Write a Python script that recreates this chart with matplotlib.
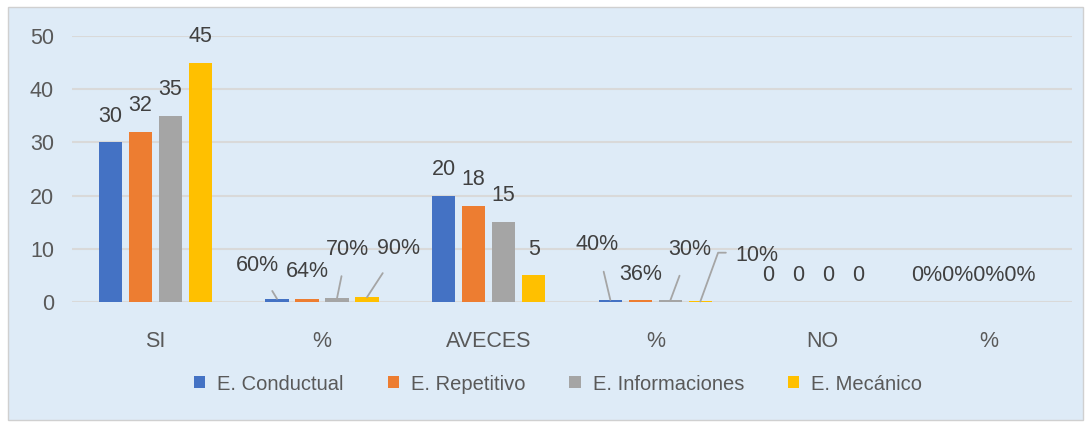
import numpy as np
import matplotlib.pyplot as plt
from matplotlib.patches import Rectangle

plt.rcParams['font.family'] = ['Liberation Sans', 'DejaVu Sans']

# Data
categories = ["SI", "%", "AVECES", "%", "NO", "%"]
series_names = ["E. Conductual", "E. Repetitivo", "E. Informaciones", "E. Mecánico"]
conductual = [30, 0.60, 20, 0.40, 0, 0.0]
repetitivo = [32, 0.64, 18, 0.36, 0, 0.0]
informaciones = [35, 0.70, 15, 0.30, 0, 0.0]
mecanico = [45, 0.90, 5, 0.10, 0, 0.0]
is_percent = [False, True, False, True, False, True]

series = [conductual, repetitivo, informaciones, mecanico]
colors = ["#4472C4", "#ED7D31", "#A5A5A5", "#FFC000"]
bg = "#DEEBF7"
label_color = "#404040"
tick_color = "#595959"

fig = plt.figure(figsize=(10.91, 4.23), dpi=100)
fig.patch.set_facecolor("white")
fig.patches.append(Rectangle((8 / 1091, 3 / 423), 1075 / 1091, 413 / 423,
                             transform=fig.transFigure, facecolor=bg,
                             edgecolor="#D0D0D0", linewidth=1, zorder=-5))

ax = fig.add_axes([72 / 1091, 121 / 423, 1000 / 1091, 266 / 423])
ax.set_facecolor("none")

x = np.arange(len(categories))
step = 0.18
width = 0.14
offsets = (np.arange(4) - 1.5) * step

for i, (vals, name, c) in enumerate(zip(series, series_names, colors)):
    ax.bar(x + offsets[i], vals, width, color=c, label=name, zorder=3)

# label offsets (pixels) for the small percent bars: (dx, dy, leader line)
pct_offsets = {
    (1, 0): (-20, 33, True), (1, 1): (0, 27, False),
    (1, 2): (10, 49, True), (1, 3): (32, 49, True),
    (3, 0): (-13, 55, True), (3, 1): (0, 26, False),
    (3, 2): (19, 51, True), (3, 3): (54, 46, "elbow"),
}
fs = 15.5

for i, vals in enumerate(series):
    for j, v in enumerate(vals):
        xc = x[j] + offsets[i]
        txt = f"{v * 100:.0f}%" if is_percent[j] else f"{v:.0f}"
        if (j, i) in pct_offsets:
            dx, dy, lead = pct_offsets[(j, i)]
            if lead == "elbow":
                ax.annotate(txt, xy=(xc, v), xytext=(dx * 0.72 - 14, dy * 0.72),
                            textcoords="offset points", ha="left", va="center",
                            fontsize=fs, color=label_color, zorder=5)
                ax.annotate("", xy=(xc, v), xytext=(dx * 0.72 - 20.5, dy * 0.72 + 2),
                            textcoords="offset points",
                            arrowprops=dict(arrowstyle="-", color="#A5A5A5", lw=1.3,
                                            shrinkA=0, shrinkB=0,
                                            connectionstyle="angle,angleA=180,angleB=70,rad=0"))
            elif lead:
                ax.annotate(txt, xy=(xc, v), xytext=(dx * 0.72, dy * 0.72),
                            textcoords="offset points", ha="center", va="center",
                            fontsize=fs, color=label_color, zorder=5,
                            arrowprops=dict(arrowstyle="-", color="#A5A5A5", lw=1.3,
                                            shrinkA=10, shrinkB=0))
            else:
                ax.annotate(txt, xy=(xc, v), xytext=(dx * 0.72, dy * 0.72),
                            textcoords="offset points", ha="center", va="center",
                            fontsize=fs, color=label_color, zorder=5)
        elif not is_percent[j]:
            shift = -6 if v == 0 else 0
            ax.annotate(txt, xy=(xc, v), xytext=(shift, 19),
                        textcoords="offset points", ha="center", va="center",
                        fontsize=fs, color=label_color, zorder=5)

# last % group labels are packed together
ax.annotate("0%0%0%0%", xy=(x[5], 0), xytext=(-11, 19), textcoords="offset points",
            ha="center", va="center", fontsize=fs, color=label_color)

ax.set_xlim(-0.5, len(categories) - 0.5)
ax.set_ylim(0, 50)
ax.set_yticks(range(0, 51, 10))
ax.yaxis.grid(True, color="#D9D9D9", linewidth=1.5, zorder=0)
ax.set_axisbelow(True)
for s in ax.spines.values():
    s.set_visible(False)
ax.set_xticks(x)
ax.set_xticklabels(categories)
ax.tick_params(axis="both", length=0, labelsize=fs, labelcolor=tick_color)
ax.tick_params(axis="x", pad=21)
ax.tick_params(axis="y", pad=13)

fig.legend(loc="center", bbox_to_anchor=(558 / 1091, 1 - 384 / 423), ncol=4,
           frameon=False, fontsize=14.5, handlelength=0.55, handleheight=0.55,
           handletextpad=0.6, columnspacing=2.2, labelcolor=tick_color)

fig.savefig("out.png", dpi=100, facecolor=fig.get_facecolor())
